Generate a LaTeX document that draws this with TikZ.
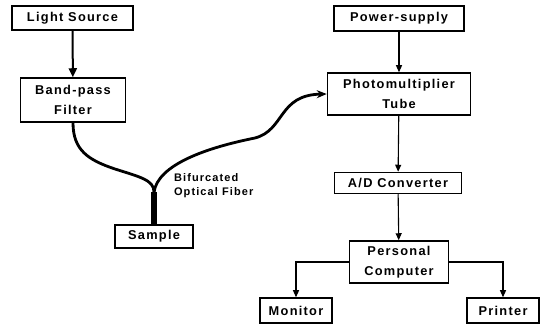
\documentclass[tikz,border=0pt]{standalone}
\usepackage{fontspec}
\setmainfont{Liberation Sans}[LetterSpace=10]
\usetikzlibrary{arrows.meta}

\begin{document}
\begin{tikzpicture}[x=0.5pt, y=-0.5pt,
  box/.style={draw, line width=0.75pt, inner sep=0pt, align=center, font=\fontsize{6.4}{10}\selectfont\bfseries},
  link/.style={line width=0.55pt, -{Triangle[length=3.5pt, width=3pt]}},
  fiber/.style={line width=1.4pt},
  trunk/.style={line width=2.7pt}]
\useasboundingbox (0,0) rectangle (544,324);

% 光源与滤光片
\node[box, minimum width=60.5pt, minimum height=12pt] (light) at (72.5,18) {Light Source};
\node[box, minimum width=52.5pt, minimum height=22pt] (filter) at (73,100) {Band-pass\\Filter};
\node[box, minimum width=39pt, minimum height=11.5pt] (sample) at (154,236.5) {Sample};

% 检测与记录
\node[box, minimum width=65pt, minimum height=12.5pt] (power) at (399,18.5) {Power-supply};
\node[box, minimum width=71.5pt, minimum height=21pt] (pmt) at (399,94) {Photomultiplier\\Tube};
\node[box, minimum width=63.5pt, minimum height=10.5pt] (adc) at (398,183) {A/D Converter};
\node[box, minimum width=49.5pt, minimum height=21pt] (pc) at (399,262) {Personal\\Computer};
\node[box, minimum width=36pt, minimum height=12.5pt] (monitor) at (296,310.5) {Monitor};
\node[box, minimum width=36pt, minimum height=12.5pt] (printer) at (503,310.5) {Printer};

% 光纤
\coordinate (split) at (154,192);
\draw[trunk] (split) -- (sample.north);
\draw[fiber] (filter.south) .. controls (73,150) and (88,160) .. (115,169)
  .. controls (140,177) and (154,180) .. (split);
\draw[fiber, -{Stealth[length=5pt, width=4pt]}] (split) .. controls (158,165) and (205,148) .. (255,138)
  .. controls (285,130) and (278,95) .. (pmt.west);
\node[anchor=west, align=left, font=\fontsize{5.5}{7}\selectfont\bfseries] (fiberlabel) at (167,186) {Bifurcated\\Optical Fiber};

% 连接线
\draw[link, line width=1pt, -{Triangle[length=4.5pt, width=4pt]}] (light) -- (filter);
\draw[link] (power) -- (pmt);
\draw[link] (pmt) -- (adc);
\draw[link] (adc) -- (pc);
\draw[link] (pc.west) -| (monitor.north);
\draw[link] (pc.east) -| (printer.north);
\end{tikzpicture}
\end{document}
